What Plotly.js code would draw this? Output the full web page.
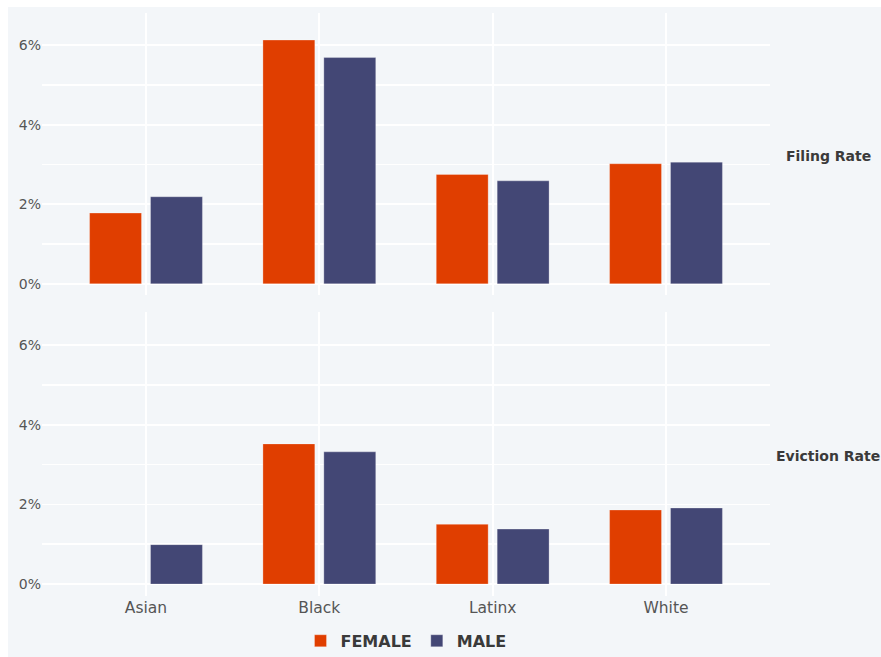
<!DOCTYPE html>
<html><head><meta charset="utf-8">
<script src="https://cdn.plot.ly/plotly-3.0.1.min.js"></script>
<style>
html,body{margin:0;padding:0;background:#ffffff;}
#chart{position:absolute;left:8px;top:7px;width:873px;height:650px;}
</style></head>
<body><div id="chart"></div>
<script>
const categories = ["Asian", "Black", "Latinx", "White"];
const filingFemale = [1.78, 6.13, 2.75, 3.02];
const filingMale = [2.19, 5.69, 2.59, 3.06];
const evictionFemale = [0, 3.52, 1.50, 1.86];
const evictionMale = [0.99, 3.32, 1.38, 1.91];
const seriesNames = ["FEMALE", "MALE"];
const panelLabels = ["Filing Rate", "Eviction Rate"];

const cF = "#e03e00", cM = "#434775";
const font = "'DejaVu Sans', sans-serif";

function bar(x, y, name, color, xa, ya, show) {
  return {type: "bar", x: x, y: y, name: name, xaxis: xa, yaxis: ya, showlegend: show,
    legendgroup: name, marker: {color: color, line: {color: "rgba(255,255,255,0.35)", width: 0.8}},
    hoverinfo: "x+y"};
}
const data = [
  bar(categories, filingFemale, seriesNames[0], cF, "x", "y", true),
  bar(categories, filingMale, seriesNames[1], cM, "x", "y", true),
  bar(categories, evictionFemale, seriesNames[0], cF, "x2", "y2", false),
  bar(categories, evictionMale, seriesNames[1], cM, "x2", "y2", false)
];

const yax = (dom, rng) => ({domain: dom, range: rng, dtick: 2, ticksuffix: "%", showgrid: true,
  gridcolor: "#ffffff", gridwidth: 1.8, zeroline: false, showline: false,
  minor: {dtick: 1, showgrid: true, gridcolor: "#ffffff", gridwidth: 1.8},
  tickfont: {family: font, size: 14, color: "#555555"}, ticklen: 0, ticks: "", fixedrange: true});
const xax = (anchor, showlabels) => ({anchor: anchor, range: [-0.6, 3.6], showgrid: true,
  gridcolor: "#ffffff", gridwidth: 1.8, zeroline: false, showline: false, showticklabels: showlabels,
  tickfont: {family: font, size: 15.5, color: "#555555"}, ticks: "", fixedrange: true});

const layout = {
  width: 873, height: 650,
  paper_bgcolor: "#f3f6f9", plot_bgcolor: "#f3f6f9",
  margin: {l: 34, r: 111, t: 6, b: 61, autoexpand: false},
  barmode: "group", bargap: 0.297, bargroupgap: 0.148,
  font: {family: font},
  xaxis: Object.assign(xax("y", false), {matches: "x2"}),
  yaxis: yax([0.5163, 1], [-0.28, 6.81]),
  xaxis2: xax("y2", true),
  yaxis2: yax([0, 0.487], [-0.30, 6.83]),
  showlegend: true,
  legend: {orientation: "h", x: 0.5, xanchor: "center", y: -0.077, yanchor: "middle",
    font: {family: font, size: 16, color: "#3a3a3a", weight: "bold"},
    itemwidth: 30, traceorder: "normal", bgcolor: "rgba(0,0,0,0)"},
  annotations: [
    {text: panelLabels[0], xref: "paper", yref: "paper", x: 1.08, y: 0.755, xanchor: "center", yanchor: "middle",
      showarrow: false, font: {family: font, size: 14, color: "#3a3a3a", weight: "bold"}},
    {text: panelLabels[1], xref: "paper", yref: "paper", x: 1.08, y: 0.240, xanchor: "center", yanchor: "middle",
      showarrow: false, font: {family: font, size: 14, color: "#3a3a3a", weight: "bold"}}
  ]
};
Plotly.newPlot("chart", data, layout, {displayModeBar: false, staticPlot: true});
</script></body></html>
